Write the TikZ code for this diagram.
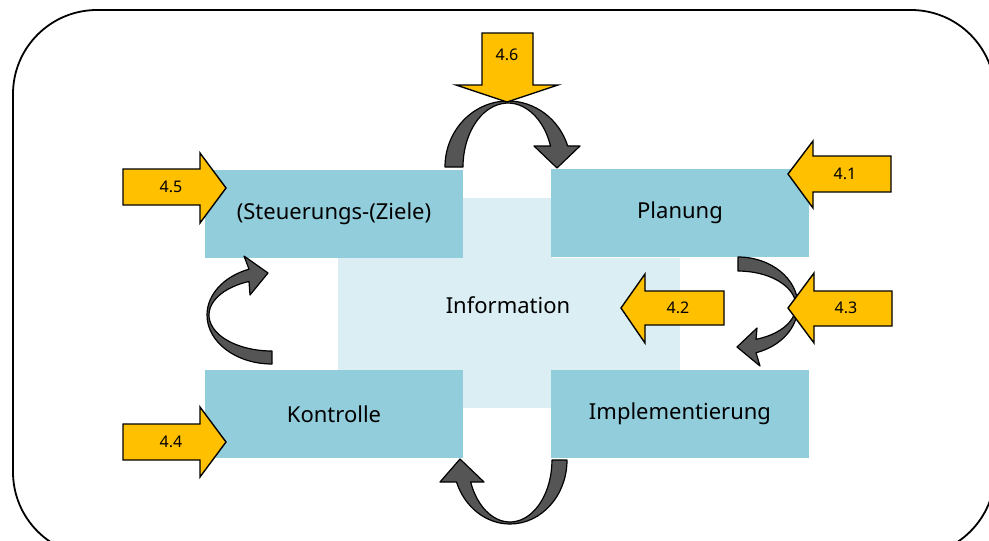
\documentclass[tikz,border=0pt]{standalone}
\usepackage{fontspec}
\setmainfont{Noto Sans}
\definecolor{boxblue}{HTML}{92CDDC}
\definecolor{crossblue}{HTML}{DAEEF3}
\definecolor{arrorange}{HTML}{FFC000}
\definecolor{arrgrey}{HTML}{555555}
\tikzset{
  box/.style={fill=boxblue, draw=none, minimum width=258pt, minimum height=88pt, inner sep=0pt,
    font=\fontsize{22}{26}\selectfont},
  cross/.style={fill=crossblue, draw=none},
  orangearrow/.style={fill=arrorange, draw=black, line width=1.4pt, line join=miter},
  greyarrow/.style={fill=arrgrey, draw=black, line width=1.2pt, line join=round},
  numlabel/.style={font=\fontsize{16}{19}\selectfont, inner sep=0pt},
  frame/.style={draw=black, line width=1.8pt, rounded corners=84pt}
}
\begin{document}
\begin{tikzpicture}[x=1pt,y=-1pt]
\useasboundingbox (0,0) rectangle (989,541);
% outer frame
\begin{scope}
\clip (0,0) rectangle (989,541);
\draw[frame] (13,10) rectangle (995,556);
\end{scope}
% central cross
\fill[cross] (338,258) rectangle (680,370);
\fill[cross] (463,198) rectangle (552,408);
\node[inner sep=0pt, font=\fontsize{22}{26}\selectfont] (info) at (508,305) {Information};
% boxes
\node[box] (ziele) at (334,214) {(Steuerungs-(Ziele)};
\node[box] (plan) at (680,213) {Planung};
\node[box] (kontr) at (334,414) {Kontrolle};
\node[box] (impl) at (680,414) {Implementierung};
% grey curved arrows
% top: from Ziele to Planung
\draw[greyarrow] (445,167) arc[start angle=180, end angle=341.4, x radius=63, y radius=66]
  -- (580,146) -- (557,168) -- (534,146) -- (550.5,146)
  arc[start angle=340.8, end angle=180, x radius=45, y radius=64] -- cycle;
% right: Planung to Implementierung
\draw[greyarrow] (738,257) arc[start angle=270, end angle=432.5, x radius=60, y radius=49]
  -- (760,366) -- (737,347) -- (757,328) -- (756,339.3)
  arc[start angle=431.9, end angle=270, x radius=58, y radius=35] -- cycle;
% bottom: Implementierung to Kontrolle
\draw[greyarrow] (567,460) arc[start angle=0, end angle=159.9, x radius=57, y radius=64]
  -- (440,482) -- (460,459) -- (484,482) -- (470.7,482)
  arc[start angle=159.2, end angle=0, x radius=42, y radius=62] -- cycle;
% left: Kontrolle to Ziele
\draw[greyarrow] (272,364) arc[start angle=90, end angle=249.3, x radius=65, y radius=49]
  -- (244,256) -- (268,273) -- (250,295) -- (249,281.5)
  arc[start angle=248.6, end angle=90, x radius=63, y radius=36] -- cycle;
% orange arrows
\draw[orangearrow] (482,33) -- (533,33) -- (533,85) -- (558,85) -- (507,102) -- (456,85) -- (482,85) -- cycle;
\node[numlabel] (a46) at (507,55) {4.6};
\draw[orangearrow] (123,169) -- (200,169) -- (200,153) -- (226,188) -- (200,223) -- (200,205) -- (123,205) -- cycle;
\node[numlabel] (a45) at (171,187) {4.5};
\draw[orangearrow] (123,424) -- (200,424) -- (200,407) -- (226,442) -- (200,477) -- (200,460) -- (123,460) -- cycle;
\node[numlabel] (a44) at (171,442) {4.4};
\draw[orangearrow] (891,156) -- (813,156) -- (813,141) -- (788,174) -- (813,208) -- (813,192) -- (891,192) -- cycle;
\node[numlabel] (a41) at (845,174) {4.1};
\draw[orangearrow] (724,291) -- (645,291) -- (645,274) -- (621,308) -- (645,343) -- (645,325) -- (724,325) -- cycle;
\node[numlabel] (a42) at (678,308) {4.2};
\draw[orangearrow] (892,291) -- (814,291) -- (814,273) -- (788,308) -- (814,343) -- (814,326) -- (892,326) -- cycle;
\node[numlabel] (a43) at (846,308) {4.3};
\end{tikzpicture}
\end{document}
